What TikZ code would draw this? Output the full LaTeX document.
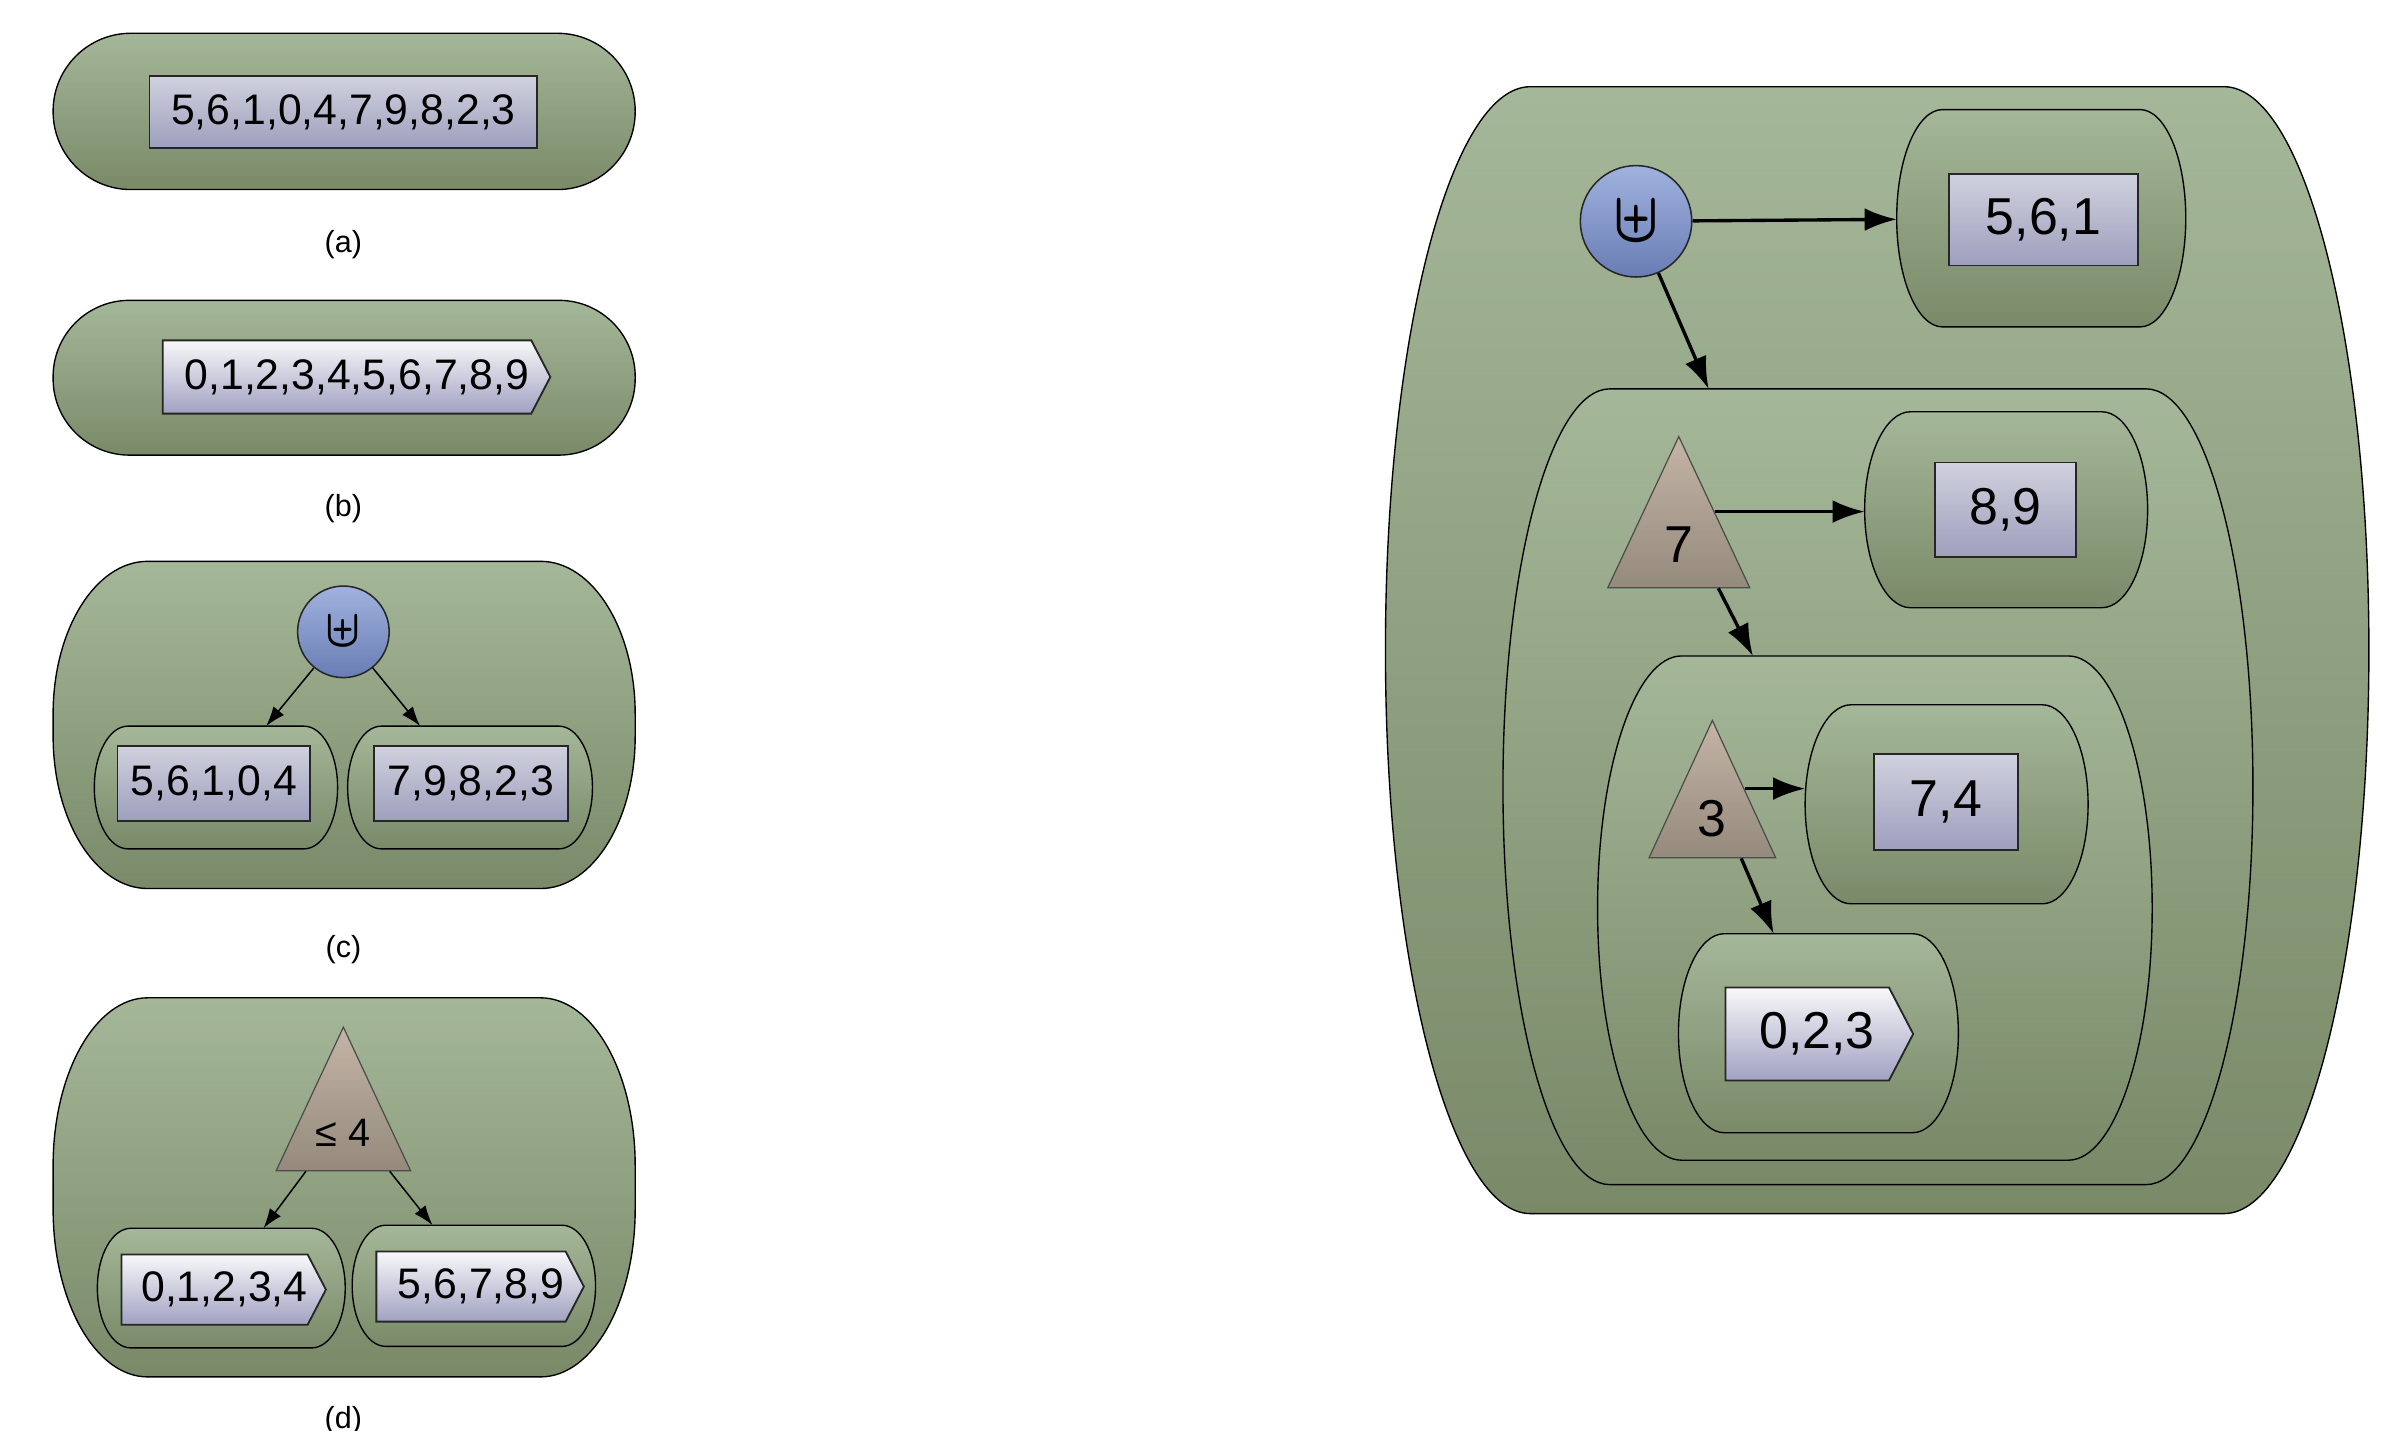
\documentclass[tikz,border=0pt]{standalone}
\usepackage{fontspec}
\setmainfont{Liberation Sans}
\usepackage{amssymb}
\usetikzlibrary{arrows.meta,shapes.geometric,shapes.symbols,calc}

\definecolor{podtop}{RGB}{164,183,152}
\definecolor{podbot}{RGB}{122,138,105}
\definecolor{listtop}{RGB}{208,209,221}
\definecolor{listbot}{RGB}{157,159,190}
\definecolor{sigtop}{RGB}{248,248,250}
\definecolor{sigbot}{RGB}{160,161,193}
\definecolor{optop}{RGB}{160,178,222}
\definecolor{opbot}{RGB}{105,125,180}
\definecolor{tritop}{RGB}{196,180,166}
\definecolor{tribot}{RGB}{148,138,124}

\tikzset{
  podnode/.style={rectangle, draw=none, inner sep=0pt},
  podline/.style={draw=black, line width=0.9pt, top color=podtop, bottom color=podbot},
  listbox/.style={rectangle, draw=black!85, line width=1.2pt, top color=listtop, bottom color=listbot, inner sep=0pt},
  sigbox/.style={signal, signal to=east, signal pointer angle=125, draw=black!85, line width=1.2pt, top color=sigtop, bottom color=sigbot, inner sep=0pt, anchor=west, execute at begin node={\hspace*{13pt}}},
  opnode/.style={circle, draw=black!85, line width=1pt, top color=optop, bottom color=opbot, inner sep=0pt},
  splitnode/.style={isosceles triangle, shape border rotate=90, isosceles triangle stretches, draw=black!70, line width=0.8pt, top color=tritop, bottom color=tribot, inner sep=0pt, anchor=apex},
  lnk/.style={line width=1pt, -{Latex[length=13pt,width=9pt]}},
  lnkbig/.style={line width=2.2pt, -{Latex[length=21pt,width=15pt]}},
  smalltxt/.style={font=\fontsize{28}{32}\selectfont},
  bigtxt/.style={font=\fontsize{34}{40}\selectfont},
  caption/.style={font=\fontsize{20}{24}\selectfont}
}

% outline of a container node, with elliptic corners
\newcommand{\drawpod}[3]{%
  \path[podline] ([xshift=#2]#1.north west) -- ([xshift=-#2]#1.north east)
    arc[start angle=90, end angle=0, x radius=#2, y radius=#3] -- ([yshift=#3]#1.south east)
    arc[start angle=0, end angle=-90, x radius=#2, y radius=#3] -- ([xshift=#2]#1.south west)
    arc[start angle=270, end angle=180, x radius=#2, y radius=#3] -- ([yshift=-#3]#1.north west)
    arc[start angle=180, end angle=90, x radius=#2, y radius=#3] -- cycle;}

\begin{document}
\begin{tikzpicture}[x=1pt, y=-1pt]
  \path[fill=white, use as bounding box] (0,0) rectangle (1568,937);

  % (a)
  \node[podnode, minimum width=381pt, minimum height=102pt] (podA) at (225.5,73) {};
  \drawpod{podA}{51pt}{51pt}
  \node[listbox, smalltxt, minimum width=254pt, minimum height=47pt] (listA) at (225,73.5) {5,6,1,0,4,7,9,8,2,3};
  \node[caption] (capA) at (225,160) {(a)};

  % (b)
  \node[podnode, minimum width=381pt, minimum height=101pt] (podB) at (225.5,247.5) {};
  \drawpod{podB}{50pt}{50pt}
  \node[sigbox, smalltxt, minimum width=254pt, minimum height=48pt] (sigB) at (106,247) {0,1,2,3,4,5,6,7,8,9};
  \node[caption] (capB) at (225,333) {(b)};

  % (c)
  \node[podnode, minimum width=381pt, minimum height=214pt] (podC) at (225.5,475) {};
  \drawpod{podC}{62pt}{100pt}
  \node[opnode, minimum size=60pt] (opC) at (225,414) {\scalebox{3}[3.5]{\boldmath$\uplus$}};
  \node[podnode, minimum width=159pt, minimum height=80pt] (podC1) at (141.5,516) {};
  \drawpod{podC1}{22pt}{40pt}
  \node[listbox, smalltxt, minimum width=126pt, minimum height=49pt] (listC1) at (140,513.5) {5,6,1,0,4};
  \node[podnode, minimum width=160pt, minimum height=80pt] (podC2) at (308,516) {};
  \drawpod{podC2}{22pt}{40pt}
  \node[listbox, smalltxt, minimum width=127pt, minimum height=49pt] (listC2) at (308.5,513.5) {7,9,8,2,3};
  \draw[lnk] (opC) -- (podC1);
  \draw[lnk] (opC) -- (podC2);
  \node[caption] (capC) at (225,622) {(c)};

  % (d)
  \node[podnode, minimum width=381pt, minimum height=248pt] (podD) at (225.5,778) {};
  \drawpod{podD}{62pt}{110pt}
  \node[splitnode, minimum width=88pt, minimum height=94pt, font=\fontsize{26}{30}\selectfont] (triD) at (225,672) {\raisebox{7pt}{≤ 4}};
  \node[podnode, minimum width=162pt, minimum height=78pt] (podD1) at (145,844) {};
  \drawpod{podD1}{22pt}{39pt}
  \node[sigbox, smalltxt, minimum width=133pt, minimum height=46pt] (sigD1) at (79,845) {0,1,2,3,4};
  \node[podnode, minimum width=159pt, minimum height=79pt] (podD2) at (310.5,842.5) {};
  \drawpod{podD2}{22pt}{39pt}
  \node[sigbox, smalltxt, minimum width=136pt, minimum height=46pt] (sigD2) at (246,843) {5,6,7,8,9};
  \draw[lnk] ($(triD.lower side)!0.55!(triD.left corner)$) -- ($(podD1.north west)!0.67!(podD1.north east)$);
  \draw[lnk] ($(triD.lower side)!0.68!(triD.right corner)$) -- ($(podD2.north west)!0.33!(podD2.north east)$);
  \node[caption] (capD) at (225,931) {(d)};

  % nested plan
  \node[podnode, minimum width=644pt, minimum height=738pt] (podR) at (1230,426) {};
  \drawpod{podR}{95pt}{369pt}
  \node[opnode, minimum size=73pt] (opR) at (1072,145) {\scalebox{3.9}[4.7]{\boldmath$\uplus$}};
  \node[podnode, minimum width=189pt, minimum height=142pt] (pod561) at (1337.5,143) {};
  \drawpod{pod561}{30pt}{71pt}
  \node[listbox, bigtxt, minimum width=124pt, minimum height=60pt] (list561) at (1339,144) {5,6,1};

  \node[podnode, minimum width=491pt, minimum height=521pt] (podS7) at (1230.5,515.5) {};
  \drawpod{podS7}{70pt}{260pt}
  \node[splitnode, bigtxt, minimum width=93pt, minimum height=99pt] (tri7) at (1100,285) {7};
  \node[podnode, minimum width=185pt, minimum height=128pt] (pod89) at (1314.5,334) {};
  \drawpod{pod89}{30pt}{64pt}
  \node[listbox, bigtxt, minimum width=92pt, minimum height=62pt] (list89) at (1314,334) {8,9};

  \node[podnode, minimum width=363pt, minimum height=330pt] (podS3) at (1228.5,595) {};
  \drawpod{podS3}{55pt}{165pt}
  \node[splitnode, bigtxt, minimum width=83pt, minimum height=90pt] (tri3) at (1122,471) {3};
  \node[podnode, minimum width=185pt, minimum height=130pt] (pod74) at (1275.5,527) {};
  \drawpod{pod74}{30pt}{65pt}
  \node[listbox, bigtxt, minimum width=94pt, minimum height=63pt] (list74) at (1275,525.5) {7,4};
  \node[podnode, minimum width=183pt, minimum height=130pt] (pod023) at (1191.5,677) {};
  \drawpod{pod023}{30pt}{65pt}
  \node[sigbox, bigtxt, minimum width=123pt, minimum height=61pt] (sig023) at (1130,677.5) {0,2,3};

  \draw[lnkbig] (opR) -- (pod561);
  \draw[lnkbig] (opR) -- (podS7);
  \draw[lnkbig] (tri7.right side) -- (tri7.right side -| pod89.west);
  \draw[lnkbig] ($(tri7.lower side)!0.55!(tri7.right corner)$) -- ($(podS3.north west)!0.28!(podS3.north east)$);
  \draw[lnkbig] (tri3.right side) -- (tri3.right side -| pod74.west);
  \draw[lnkbig] ($(tri3.lower side)!0.45!(tri3.right corner)$) -- ($(pod023.north west)!0.34!(pod023.north east)$);
\end{tikzpicture}
\end{document}
